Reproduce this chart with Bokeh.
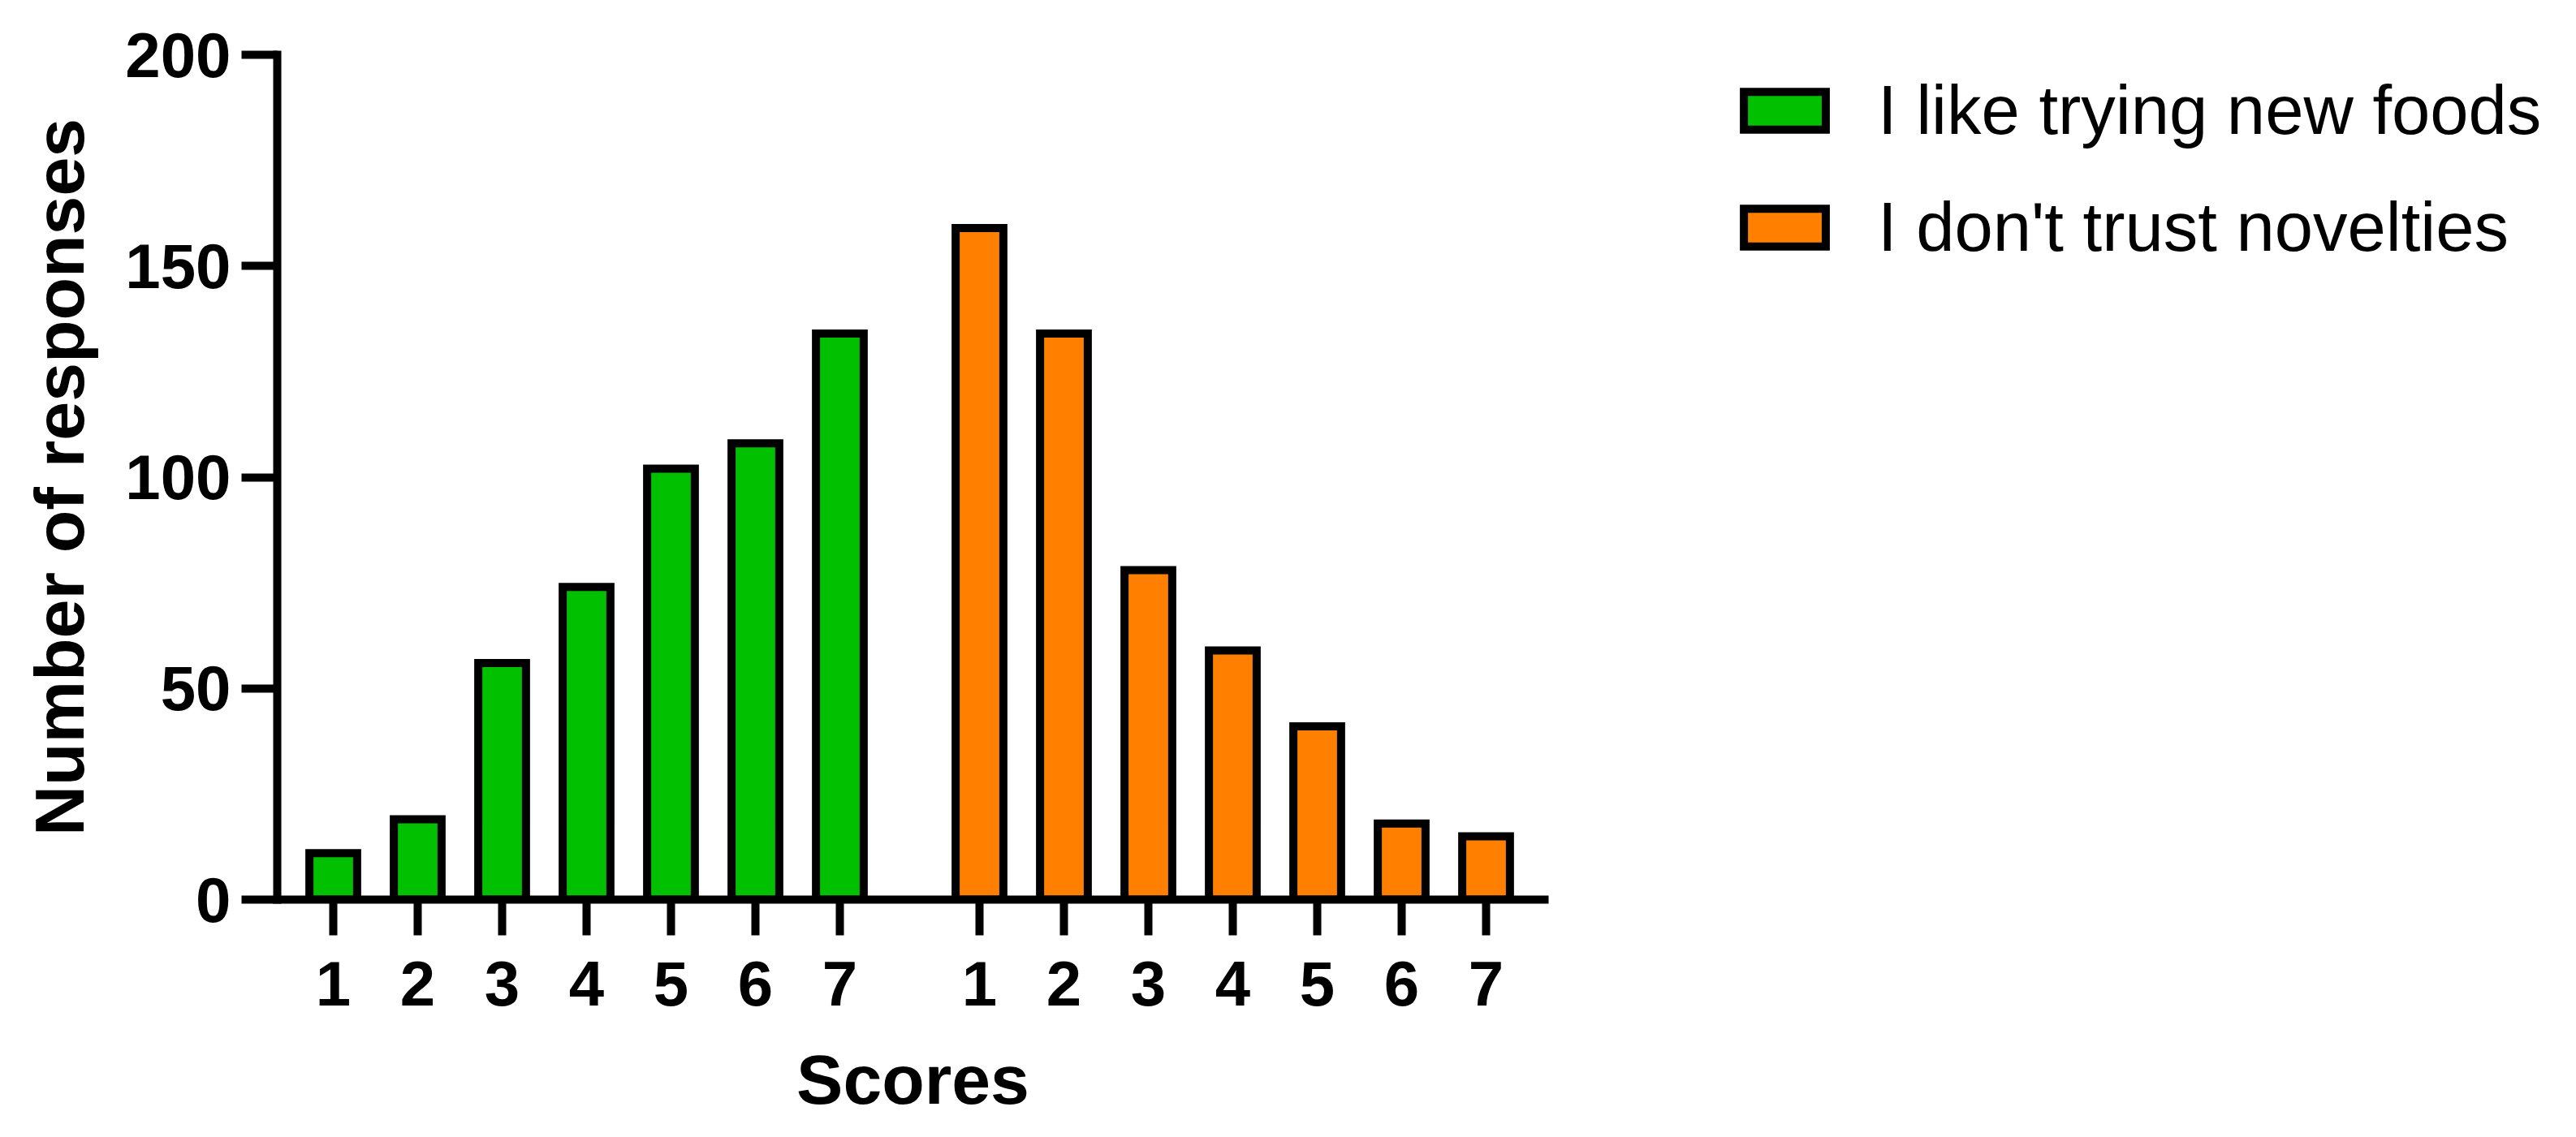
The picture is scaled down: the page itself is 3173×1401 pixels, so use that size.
from bokeh.plotting import figure
from bokeh.models import (Range1d, FixedTicker, CustomJSTickFormatter, Legend,
                          LegendItem, ColumnDataSource)
from bokeh.embed import file_html
from bokeh.resources import INLINE

# ---- data ----
scores = ["1", "2", "3", "4", "5", "6", "7"]
like_new_foods = [11, 19, 56, 74, 102, 108, 134]
distrust_novelties = [159, 134, 78, 59, 41, 18, 15]
series_names = ["I like trying new foods", "I don't trust novelties"]
series_colors = ["#00C000", "#FF8000"]
y_ticks = [0, 50, 100, 150, 200]
x_title = "Scores"
y_title = "Number of responses"

# ---- layout of the two groups on a numeric axis ----
group_gap = 0.654
n = len(scores)
x_like = [i + 1 for i in range(n)]
x_dis = [n + 1 + group_gap + i for i in range(n)]
tick_pos = x_like + x_dis
tick_labels = scores + scores

p = figure(width=3150, height=1380, output_backend="svg", toolbar_location=None,
           x_range=Range1d(1 - 0.6635, x_dis[-1] + 0.7405), y_range=Range1d(0, 200),
           frame_width=1566, frame_height=1041,
           min_border_left=341, min_border_top=67, min_border_right=1243,
           min_border_bottom=272)
p.outline_line_color = None
p.grid.visible = False
p.background_fill_color = "white"
p.border_fill_color = "white"

src_a = ColumnDataSource(dict(x=x_like, top=like_new_foods))
src_b = ColumnDataSource(dict(x=x_dis, top=distrust_novelties))
bar_kw = dict(width=0.565, bottom=0, line_color="black", line_width=10, line_join="miter")
r1 = p.vbar(x="x", top="top", source=src_a, fill_color=series_colors[0], **bar_kw)
r2 = p.vbar(x="x", top="top", source=src_b, fill_color=series_colors[1], **bar_kw)

for ax in (p.xaxis[0], p.yaxis[0]):
    ax.axis_line_width = 10
    ax.axis_line_color = "black"
    ax.major_tick_line_width = 10
    ax.major_tick_line_color = "black"
    ax.major_tick_in = 0
    ax.major_tick_out = 44
    ax.minor_tick_line_color = None
    ax.major_label_text_font = "Liberation Sans"
    ax.major_label_text_font_style = "bold"
    ax.major_label_text_font_size = "78px"
    ax.major_label_text_color = "black"
    ax.axis_label_text_font = "Liberation Sans"
    ax.axis_label_text_font_style = "bold"
    ax.axis_label_text_font_size = "86px"
    ax.axis_label_text_color = "black"

p.yaxis[0].axis_line_cap = "square"
p.yaxis[0].ticker = FixedTicker(ticks=y_ticks)
p.yaxis[0].major_label_standoff = 13
p.yaxis[0].axis_label = y_title
p.yaxis[0].axis_label_standoff = 30

p.xaxis[0].ticker = FixedTicker(ticks=tick_pos)
p.xaxis[0].formatter = CustomJSTickFormatter(args=dict(labels=tick_labels),
                                             code="return labels[index];")
p.xaxis[0].major_label_standoff = 32
p.xaxis[0].axis_label = x_title
p.xaxis[0].axis_label_standoff = 40

legend = Legend(items=[LegendItem(label=series_names[0], renderers=[r1]),
                       LegendItem(label=series_names[1], renderers=[r2])],
                location=(228, 779), glyph_width=126, glyph_height=58,
                label_text_font="Liberation Sans", label_text_font_size="85px",
                label_text_color="black", label_standoff=52, spacing=46,
                padding=0, margin=0, border_line_color=None,
                background_fill_alpha=0)
p.add_layout(legend, "right")

open("out.html", "w").write(file_html(p, INLINE))
